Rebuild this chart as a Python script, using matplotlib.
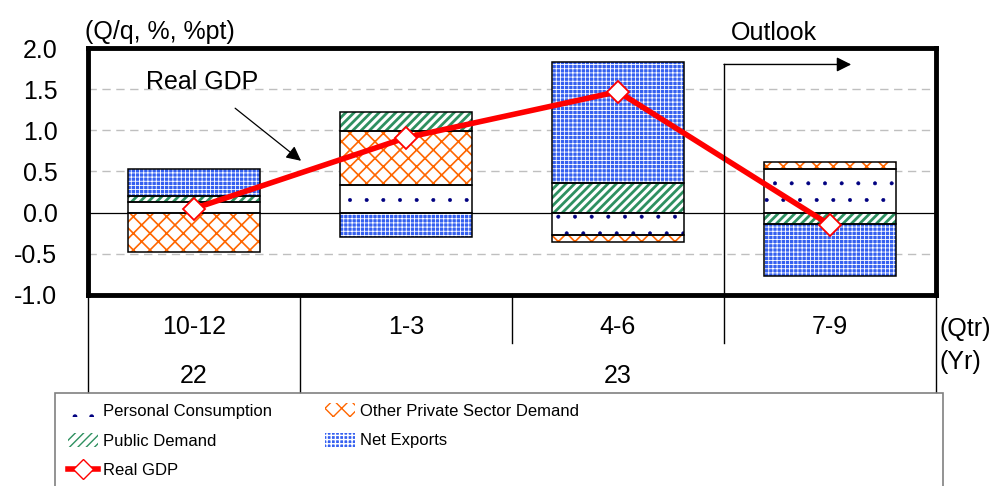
import matplotlib
matplotlib.use('Agg')
import matplotlib.pyplot as plt
import numpy as np
from matplotlib.lines import Line2D
from matplotlib.patches import Patch, Rectangle

plt.rcParams.update({
    'font.family': ['Liberation Sans', 'DejaVu Sans'],
    'font.size': 18,
})

# Contributions to real GDP growth (Q/q, %pt)
quarters = ['10-12', '1-3', '4-6', '7-9']
years = ['22', '23']
consumption = [0.13, 0.34, -0.27, 0.53]
other_private = [-0.48, 0.65, -0.09, 0.08]
public_demand = [0.07, 0.23, 0.36, -0.14]
net_exports = [0.33, -0.30, 1.47, -0.63]
real_gdp = [0.05, 0.91, 1.47, -0.15]

series = [
    ('Personal Consumption', consumption,
     dict(facecolor='white', edgecolor='#000080', hatch='.', hlw=0.4)),
    ('Other Private Sector Demand', other_private,
     dict(facecolor='white', edgecolor='#ff6600', hatch='xx', hlw=1.2)),
    ('Public Demand', public_demand,
     dict(facecolor='white', edgecolor='#2e9060', hatch='////', hlw=2.0)),
    ('Net Exports', net_exports,
     dict(facecolor='#3560f0', edgecolor='white', hatch='++++', hlw=0.6)),
]

fig = plt.figure(figsize=(10.01, 4.86), dpi=100)
ax = fig.add_axes([88 / 1001, 1 - 295 / 486, 848 / 1001, 247 / 486])

x = np.arange(len(quarters))
width = 0.62
pos_base = np.zeros(len(x))
neg_base = np.zeros(len(x))
handles = {}
for name, vals, st in series:
    vals = np.array(vals)
    bottom = np.where(vals >= 0, pos_base, neg_base)
    bars = ax.bar(x, vals, width, bottom=bottom, facecolor=st['facecolor'],
                  edgecolor=st['edgecolor'], hatch=st['hatch'], linewidth=0,
                  zorder=2)
    for b in bars:
        try:
            b.set_hatch_linewidth(st['hlw'])
        except AttributeError:
            pass
    ax.bar(x, vals, width, bottom=bottom, fill=False, edgecolor='black',
           linewidth=1.1, zorder=3)
    pos_base += np.where(vals >= 0, vals, 0)
    neg_base += np.where(vals < 0, vals, 0)
    h = Patch(facecolor=st['facecolor'], edgecolor=st['edgecolor'],
              hatch=st['hatch'], linewidth=0)
    try:
        h.set_hatch_linewidth(st['hlw'])
    except AttributeError:
        pass
    handles[name] = h

ax.plot(x, real_gdp, color='#ff0000', lw=4.0, marker='D', markersize=11,
        markerfacecolor='white', markeredgecolor='#ff0000',
        markeredgewidth=1.3, zorder=5)

ax.set_xlim(-0.5, 3.5)
ax.set_ylim(-1.0, 2.0)
yticks = np.arange(-1.0, 2.01, 0.5)
ax.set_yticks(yticks)
ax.set_yticklabels([f'{v:.1f}' for v in yticks])
ax.tick_params(axis='y', length=0, pad=22, labelsize=18)
ax.set_xticks([])
for yv in [-0.5, 0.5, 1.0, 1.5]:
    ax.axhline(yv, color='#bfbfbf', lw=1.0, ls=(0, (6, 4)), zorder=1)
ax.axhline(0, color='black', lw=0.9, zorder=1)
for sp in ax.spines.values():
    sp.set_linewidth(3.5)
    sp.set_color('black')

# Outlook marker
ax.plot([2.5, 2.5], [1.8, -1.0], color='black', lw=1.0, clip_on=False,
        zorder=6)
ax.annotate('', xy=(3.1, 1.8), xytext=(2.5, 1.8),
            arrowprops=dict(arrowstyle='-|>', color='black', lw=1.0,
                            mutation_scale=22, shrinkA=0, shrinkB=0),
            annotation_clip=False)
fig.text(774 / 1001, 1 - 33 / 486, 'Outlook', ha='center', va='center')

ax.annotate('Real GDP', xy=(0.505, 0.63), xytext=(0.04, 1.585),
            ha='center', va='center',
            arrowprops=dict(arrowstyle='-|>', color='black', lw=0.9,
                            mutation_scale=22, shrinkA=13, shrinkB=0))

fig.text(160 / 1001, 1 - 32 / 486, '(Q/q, %, %pt)', ha='center',
         va='center')

# Category table under the axis
tr = ax.get_xaxis_transform()
for xv, y_end in [(-0.5, -0.393), (0.5, -0.393), (1.5, -0.194),
                  (2.5, -0.194), (3.5, -0.393)]:
    ax.plot([xv, xv], [0, y_end], color='black', lw=1.0, transform=tr,
            clip_on=False)
for xi, q in zip(x, quarters):
    ax.text(xi, -0.13, q, transform=tr, ha='center', va='center')
ax.text(0, -0.328, years[0], transform=tr, ha='center', va='center')
ax.text(2, -0.328, years[1], transform=tr, ha='center', va='center')
ax.text(3.515, -0.138, '(Qtr)', transform=tr, ha='left', va='center')
ax.text(3.515, -0.271, '(Yr)', transform=tr, ha='left', va='center')

# Legend
fig.patches.append(Rectangle((55 / 1001, -0.1), 888 / 1001,
                             1 - 393 / 486 + 0.1, transform=fig.transFigure,
                             fill=False, edgecolor='#808080', lw=1.2))
gdp_handle = Line2D([], [], color='#ff0000', lw=4.0, marker='D',
                    markersize=10, markerfacecolor='white',
                    markeredgecolor='#ff0000')
leg_handles = [handles['Personal Consumption'], handles['Public Demand'],
               gdp_handle, handles['Other Private Sector Demand'],
               handles['Net Exports']]
leg_labels = ['Personal Consumption', 'Public Demand', 'Real GDP',
              'Other Private Sector Demand', 'Net Exports']
fig.legend(leg_handles, leg_labels, ncol=2, loc='upper left',
           bbox_to_anchor=(68 / 1001, 1 - 403 / 486), frameon=False,
           fontsize=12, handlelength=1.8, handleheight=0.9,
           handletextpad=0.3, labelspacing=0.85, columnspacing=3.2,
           borderaxespad=0, borderpad=0)

fig.savefig('out.png', dpi=100)
